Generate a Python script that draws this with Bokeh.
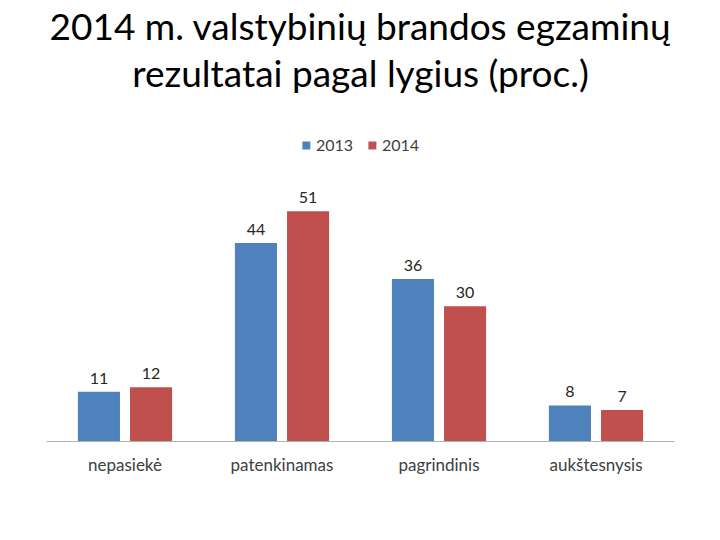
from bokeh.plotting import figure
from bokeh.models import ColumnDataSource, Legend, LegendItem, Title, FixedTicker
from bokeh.transform import dodge
from bokeh.core.properties import value
from bokeh.embed import file_html
from bokeh.resources import INLINE

categories = ["nepasiekė", "patenkinamas", "pagrindinis", "aukštesnysis"]
values_2013 = [11, 44, 36, 8]
values_2014 = [12, 51, 30, 7]
series_names = ["2013", "2014"]
title_lines = ["2014 m. valstybinių brandos egzaminų", "rezultatai pagal lygius (proc.)"]

FONT = "Lato"
BLUE = "#4F81BD"
RED = "#C0504D"

pos = [i + 0.5 for i in range(len(categories))]
src = ColumnDataSource(dict(x=pos, v13=values_2013, v14=values_2014,
                            t13=[str(v) for v in values_2013],
                            t14=[str(v) for v in values_2014]))

p = figure(width=720, height=540, x_range=(0, 4), y_range=(0, 76.9),
           output_backend="svg", toolbar_location=None,
           min_border_left=46, min_border_right=46, min_border_top=0,
           min_border_bottom=99)
p.outline_line_color = None
p.background_fill_color = "white"
p.border_fill_color = "white"
p.xgrid.visible = False
p.ygrid.visible = False
p.yaxis.visible = False

off = 0.166
bw = 0.268
r13 = p.vbar(x=dodge("x", -off, range=p.x_range), top="v13", width=bw, source=src,
             color=BLUE, line_color=None)
r14 = p.vbar(x=dodge("x", off, range=p.x_range), top="v14", width=bw, source=src,
             color=RED, line_color=None)

for col, tcol, o in (("v13", "t13", -off), ("v14", "t14", off)):
    p.text(x=dodge("x", o, range=p.x_range), y=col, text=tcol, source=src,
           text_align="center", text_baseline="bottom", y_offset=-8,
           text_font=value(FONT), text_font_size="16px", text_color="#262626")

p.xaxis.ticker = FixedTicker(ticks=pos)
p.xaxis.major_label_overrides = {pv: c for pv, c in zip(pos, categories)}
p.xaxis.major_tick_line_color = None
p.xaxis.minor_tick_line_color = None
p.xaxis.axis_line_color = "#b3b3b3"
p.xaxis.major_label_text_font = FONT
p.xaxis.major_label_text_font_size = "17px"
p.xaxis.major_label_text_color = "#404040"
p.xaxis.major_label_standoff = 6

legend = Legend(items=[LegendItem(label=series_names[0], renderers=[r13]),
                       LegendItem(label=series_names[1], renderers=[r14])],
                location="top_center", orientation="horizontal",
                border_line_color=None, background_fill_alpha=0,
                label_text_font=FONT, label_text_font_size="16px",
                label_text_color="#404040", glyph_width=10, glyph_height=10,
                spacing=14, label_standoff=5, padding=0, margin=41)
p.add_layout(legend, "center")

p.add_layout(Title(text=title_lines[1], align="center", text_font=FONT,
                   text_font_size="37px", text_font_style="normal",
                   text_color="black", standoff=0, text_line_height=0.95), "above")
p.add_layout(Title(text=title_lines[0], align="center", text_font=FONT,
                   text_font_size="37px", text_font_style="normal",
                   text_color="black", standoff=0, text_line_height=0.95), "above")

open("out.html", "w").write(file_html(p, INLINE))
